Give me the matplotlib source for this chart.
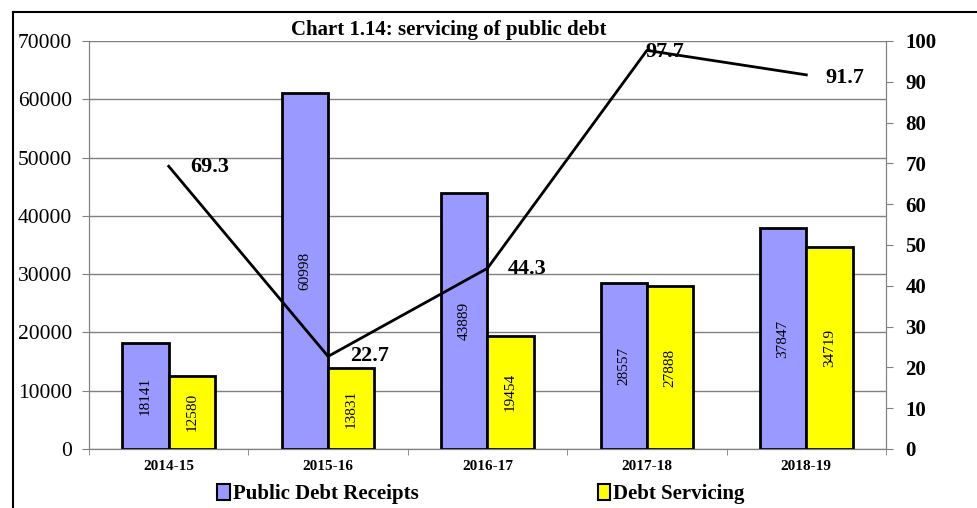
import matplotlib
matplotlib.use("Agg")
from matplotlib import pyplot as plt
from matplotlib.lines import Line2D
from matplotlib.patches import Patch
import numpy as np

years = ["2014-15", "2015-16", "2016-17", "2017-18", "2018-19"]
receipts = [18141, 60998, 43889, 28557, 37847]
servicing = [12580, 13831, 19454, 27888, 34719]
ratio = [69.3, 22.7, 44.3, 97.7, 91.7]

BLUE = "#9999ff"
YELLOW = "#ffff00"
SERIF = ["Liberation Serif", "DejaVu Serif"]

plt.rcParams["font.family"] = SERIF

fig = plt.figure(figsize=(9.78, 5.08), dpi=100)
ax = fig.add_axes([89 / 978, 59 / 508, 797 / 978, 408 / 508])

x = np.arange(len(years))
w = 0.29
bars1 = ax.bar(x - w / 2, receipts, w, color=BLUE, edgecolor="black", linewidth=2, zorder=3)
bars2 = ax.bar(x + w / 2, servicing, w, color=YELLOW, edgecolor="black", linewidth=2, zorder=3)

for bars, vals in ((bars1, receipts), (bars2, servicing)):
    for b, v in zip(bars, vals):
        ax.text(b.get_x() + b.get_width() / 2, v / 2, str(v), rotation=90,
                ha="center", va="center", fontsize=11, zorder=4)

ax.set_xlim(-0.5, len(years) - 0.5)
ax.set_ylim(0, 70000)
ax.set_yticks(np.arange(0, 70001, 10000))
ax.tick_params(axis="y", labelsize=15.5, length=5, color="#808080", pad=7)
ax.set_xticks(x)
ax.set_xticklabels(years, fontsize=11, fontweight="bold")
ax.tick_params(axis="x", length=0, pad=8)
ax.set_xticks(np.arange(-0.5, len(years), 1), minor=True)
ax.tick_params(axis="x", which="minor", length=4, color="#808080")
ax.grid(axis="y", color="#808080", linewidth=1, zorder=0)
for s in ax.spines.values():
    s.set_color("#808080")
ax.spines["top"].set_visible(False)

ax2 = ax.twinx()
ax2.plot(x, ratio, color="black", linewidth=2, zorder=5)
ax2.set_ylim(0, 100)
ax2.set_yticks(np.arange(0, 101, 10))
ax2.tick_params(axis="y", labelsize=15, length=5, color="#808080", pad=9)
for lab in ax2.get_yticklabels():
    lab.set_fontweight("bold")
for s in ax2.spines.values():
    s.set_color("#808080")
ax2.spines["top"].set_visible(False)

offsets = [(0.26, -0.2), (0.26, 0.0), (0.25, -0.2), (0.11, -0.5), (0.24, -0.7)]
for xi, v, (dx, dy) in zip(x, ratio, offsets):
    ax2.text(xi + dx, v + dy, f"{v}", fontsize=16, fontweight="bold",
             ha="center", va="center", zorder=6)

fig.text(449 / 978, 1 - 30 / 508, "Chart 1.14: servicing of public debt",
         fontsize=15, fontweight="bold", ha="center", va="center")

handles = [Patch(facecolor=BLUE, edgecolor="black", linewidth=1.5),
           Patch(facecolor=YELLOW, edgecolor="black", linewidth=1.5)]
fig.legend(handles, ["Public Debt Receipts", "Debt Servicing"], loc="center",
           bbox_to_anchor=(481 / 978, 1 - 494 / 508), ncol=2, frameon=False,
           prop={"family": SERIF, "weight": "bold", "size": 15},
           handlelength=0.6, handleheight=0.8, handletextpad=0.15, columnspacing=8.6)

fig.add_artist(Line2D([13 / 978, 1], [1 - 12 / 508] * 2, color="black", linewidth=1.5,
                      transform=fig.transFigure))
fig.add_artist(Line2D([13 / 978] * 2, [0, 1 - 12 / 508], color="black", linewidth=1.5,
                      transform=fig.transFigure))

fig.savefig("out.png", dpi=100)
